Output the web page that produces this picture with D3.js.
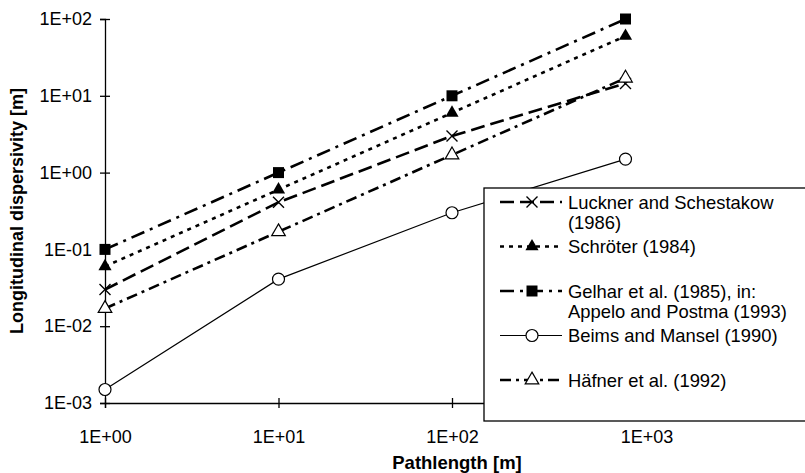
<!DOCTYPE html>
<html>
<head>
<meta charset="utf-8">
<script src="https://cdn.jsdelivr.net/npm/d3@7"></script>
<style>
	body { margin: 0; background: #fff; }
	text { font-family: "Liberation Sans", Arial, sans-serif; fill: #000; }
</style>
</head>
<body>
<script>
// Data
const pathlength = [1, 10, 100, 1000];
const luckner = [0.03, 0.41, 3.0, 14.5];
const schroeter = [0.06, 0.6, 6, 60];
const gelhar = [0.1, 1, 10, 100];
const beims = [0.0015, 0.041, 0.3, 1.5];
const haefner = [0.017, 0.17, 1.7, 17];
const xTicks = [1, 10, 100, 1000];
const yTicks = [0.001, 0.01, 0.1, 1, 10, 100];

const seriesNames = [
	["Luckner and Schestakow", "(1986)"],
	["Schröter (1984)"],
	["Gelhar et al. (1985), in:", "Appelo and Postma (1993)"],
	["Beims and Mansel (1990)"],
	["Häfner et al. (1992)"]
];

const series = [
	{ values: luckner, dash: "14,6", width: 2.6, marker: "cross" },
	{ values: schroeter, dash: "4,5", width: 2.6, marker: "tri" },
	{ values: gelhar, dash: "14,6,3,6", width: 2.6, marker: "square" },
	{ values: beims, dash: null, width: 1.2, marker: "circle" },
	{ values: haefner, dash: "11,5,3,5", width: 2.6, marker: "otri" }
];

const width = 805, height = 473;
const svg = d3.select("body").append("svg")
	.attr("width", width).attr("height", height)
	.attr("xmlns", "http://www.w3.org/2000/svg");

const x = d3.scaleLog().domain([1, 10000]).range([105, 799]);
const y = d3.scaleLog().domain([0.001, 100]).range([403, 19]);

function sci(v) {
	const e = Math.round(Math.log10(v));
	return "1E" + (e < 0 ? "-" : "+") + String(Math.abs(e)).padStart(2, "0");
}

// X axis
const gx = svg.append("g").attr("transform", "translate(0,403)")
	.call(d3.axisBottom(x).tickValues(xTicks).tickFormat(sci).tickSize(5).tickPadding(22));
gx.selectAll(".tick line").attr("y1", -5);
gx.selectAll("text").style("font-size", "18px")
	.attr("dx", d => d === 1000 ? 21 : 0);

// Y axis
const gy = svg.append("g").attr("transform", "translate(105,0)")
	.call(d3.axisLeft(y).tickValues(yTicks).tickFormat(sci).tickSize(5).tickPadding(8));
gy.selectAll(".tick line").attr("x1", 5);
gy.selectAll("text").style("font-size", "18px");

svg.selectAll(".domain, .tick line").attr("stroke", "#000").attr("stroke-width", 1.3);

// Axis titles
svg.append("text").attr("x", 457).attr("y", 469)
	.attr("text-anchor", "middle").style("font-size", "18.5px").style("font-weight", "bold")
	.text("Pathlength [m]");
svg.append("text").attr("transform", "translate(23,211) rotate(-90)")
	.attr("text-anchor", "middle").style("font-size", "18px").style("font-weight", "bold")
	.text("Longitudinal dispersivity [m]");

// Markers
function drawMarker(g, type) {
	if (type === "cross") {
		g.append("path").attr("d", "M-5.5,-5.5L5.5,5.5M-5.5,5.5L5.5,-5.5")
			.attr("stroke", "#000").attr("stroke-width", 1.4).attr("fill", "none");
	} else if (type === "square") {
		g.append("path").attr("d", d3.symbol(d3.symbolSquare, 121)())
			.attr("fill", "#000");
	} else if (type === "tri") {
		g.append("path").attr("d", d3.symbol(d3.symbolTriangle, 75)())
			.attr("fill", "#000");
	} else if (type === "otri") {
		g.append("path").attr("d", d3.symbol(d3.symbolTriangle, 80)())
			.attr("fill", "#fff").attr("stroke", "#000").attr("stroke-width", 1.2);
	} else if (type === "circle") {
		g.append("circle").attr("r", 6)
			.attr("fill", "#fff").attr("stroke", "#000").attr("stroke-width", 1.2);
	}
}

const line = d3.line().x((d, i) => x(pathlength[i])).y(d => y(d));

// Lines
series.forEach(s => {
	svg.append("path").datum(s.values)
		.attr("d", line)
		.attr("fill", "none")
		.attr("stroke", "#000")
		.attr("stroke-width", s.width)
		.attr("stroke-dasharray", s.dash);
});

// Points
series.forEach(s => {
	s.values.forEach((v, i) => {
		const g = svg.append("g").attr("transform", "translate(" + x(pathlength[i]) + "," + y(v) + ")");
		drawMarker(g, s.marker);
	});
});

// Legend
const legend = svg.append("g");
legend.append("rect").attr("x", 484).attr("y", 188).attr("width", 330).attr("height", 233)
	.attr("fill", "#fff").attr("stroke", "#000").attr("stroke-width", 1.3);

series.forEach((s, i) => {
	const ly = 202 + i * 44.5;
	legend.append("line").attr("x1", 500).attr("x2", 562).attr("y1", ly).attr("y2", ly)
		.attr("stroke", "#000").attr("stroke-width", s.width)
		.attr("stroke-dasharray", s.dash);
	drawMarker(legend.append("g").attr("transform", "translate(532," + ly + ")"), s.marker);
	seriesNames[i].forEach((t, j) => {
		legend.append("text").attr("x", 568).attr("y", ly + 6.5 + j * 20.5)
			.style("font-size", "18.4px").text(t);
	});
});
</script>
</body>
</html>
